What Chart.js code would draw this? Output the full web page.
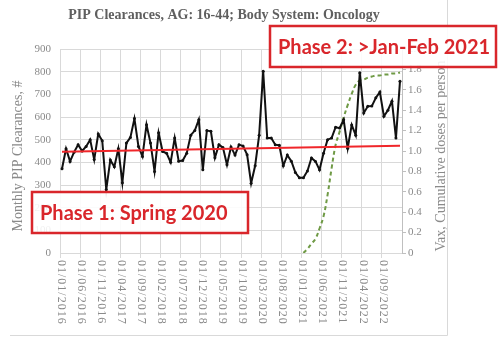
<!DOCTYPE html>
<html>
<head>
<meta charset="utf-8">
<script src="https://cdn.jsdelivr.net/npm/chart.js@4.4.1/dist/chart.umd.min.js"></script>
<style>
  body { margin: 0; background: #fff; }
  canvas { display: block; }
</style>
</head>
<body>
<canvas id="pipChart" width="499" height="339"></canvas>
<script>
const months = [
    '01/01/2016', '01/02/2016', '01/03/2016', '01/04/2016', '01/05/2016', '01/06/2016', '01/07/2016', '01/08/2016', '01/09/2016', '01/10/2016', '01/11/2016', '01/12/2016',
    '01/01/2017', '01/02/2017', '01/03/2017', '01/04/2017', '01/05/2017', '01/06/2017', '01/07/2017', '01/08/2017', '01/09/2017', '01/10/2017', '01/11/2017', '01/12/2017',
    '01/01/2018', '01/02/2018', '01/03/2018', '01/04/2018', '01/05/2018', '01/06/2018', '01/07/2018', '01/08/2018', '01/09/2018', '01/10/2018', '01/11/2018', '01/12/2018',
    '01/01/2019', '01/02/2019', '01/03/2019', '01/04/2019', '01/05/2019', '01/06/2019', '01/07/2019', '01/08/2019', '01/09/2019', '01/10/2019', '01/11/2019', '01/12/2019',
    '01/01/2020', '01/02/2020', '01/03/2020', '01/04/2020', '01/05/2020', '01/06/2020', '01/07/2020', '01/08/2020', '01/09/2020', '01/10/2020', '01/11/2020', '01/12/2020',
    '01/01/2021', '01/02/2021', '01/03/2021', '01/04/2021', '01/05/2021', '01/06/2021', '01/07/2021', '01/08/2021', '01/09/2021', '01/10/2021', '01/11/2021', '01/12/2021',
    '01/01/2022', '01/02/2022', '01/03/2022', '01/04/2022', '01/05/2022', '01/06/2022', '01/07/2022', '01/08/2022', '01/09/2022', '01/10/2022', '01/11/2022', '01/12/2022',
    '01/01/2023'
];

// monthly PIP clearances, 01/2016 .. 01/2023
const clearances = [
    372, 460, 404, 445, 478, 450, 470, 500, 412, 525,
    495, 280, 410, 380, 460, 310, 485, 510, 593, 470,
    426, 566, 485, 360, 530, 448, 440, 400, 507, 405,
    408, 440, 520, 540, 588, 367, 540, 537, 420, 478,
    465, 389, 468, 432, 478, 472, 434, 308, 385, 520,
    802, 507, 507, 478, 475, 385, 432, 405, 355, 332,
    332, 362, 419, 404, 367, 440, 500, 507, 555, 551,
    588, 462, 565, 520, 795, 618, 647, 648, 685, 710,
    603, 630, 670, 507, 758
];

// cumulative vaccine doses per person, from 01/01/2021
const vaxMonths = months.slice(60);
const vaxDoses = [
    0, 0.04, 0.09, 0.14, 0.24, 0.36, 0.57, 0.83, 1.06, 1.19,
    1.33, 1.45, 1.56, 1.65, 1.69, 1.70, 1.72, 1.73, 1.74, 1.74,
    1.75, 1.75, 1.76, 1.76, 1.77
];

// linear trend end points
const trendMonths = ['01/01/2016', '01/01/2023'];
const trendValues = [447, 473];

const leftTicks = { min: 0, max: 900, step: 100 };
const rightTicks = { min: 0, max: 2, step: 0.2 };

const titleText = 'PIP Clearances, AG: 16-44; Body System: Oncology';
const leftTitle = 'Monthly PIP Clearances, #';
const rightTitle = 'Vax, Cumulative doses per person';
const phase1 = 'Phase 1: Spring 2020';
const phase2 = 'Phase 2: >Jan-Feb 2021';

const serif = '"Liberation Serif", "DejaVu Serif", serif';
const gray = '#8a8a8a';
const red = '#d9262b';

function drawBox(ctx, x, y, w, h, text) {
    ctx.fillStyle = 'rgba(255,255,255,0.88)';
    ctx.fillRect(x, y, w, h);
    ctx.strokeStyle = red;
    ctx.lineWidth = 2.5;
    ctx.strokeRect(x, y, w, h);
    ctx.fillStyle = red;
    ctx.font = 'bold 20px Lato, "Open Sans", sans-serif';
    ctx.textAlign = 'left';
    ctx.textBaseline = 'middle';
    ctx.fillText(text, x + 8, y + h / 2 + 1);
}

const overlay = {
    id: 'overlay',
    afterDraw(chart) {
        const ctx = chart.ctx;
        const area = chart.chartArea;
        const x = chart.scales.x;
        ctx.save();

        ctx.fillStyle = '#5f5f5f';
        ctx.font = 'bold 14px ' + serif;
        ctx.textAlign = 'center';
        ctx.textBaseline = 'middle';
        ctx.fillText(titleText, 224, 15);

        // x labels, rotated to read downwards
        const half = (x.getPixelForValue(1) - x.getPixelForValue(0)) / 2;
        ctx.fillStyle = gray;
        ctx.font = '12px ' + serif;
        ctx.letterSpacing = '1px';
        months.forEach((m, i) => {
            if (i % 5) return;
            ctx.save();
            ctx.translate(x.getPixelForValue(i) - half + 1, area.bottom + 7);
            ctx.rotate(Math.PI / 2);
            ctx.textAlign = 'left';
            ctx.textBaseline = 'middle';
            ctx.fillText(m, 0, 0);
            ctx.restore();
        });
        ctx.letterSpacing = '0px';

        // axis titles
        ctx.font = '14px ' + serif;
        ctx.textAlign = 'center';
        ctx.textBaseline = 'middle';
        ctx.save();
        ctx.translate(18, 156);
        ctx.rotate(-Math.PI / 2);
        ctx.fillText(leftTitle, 0, 0);
        ctx.restore();
        ctx.save();
        ctx.translate(441, 156);
        ctx.rotate(-Math.PI / 2);
        ctx.fillText(rightTitle, 0, 0);
        ctx.restore();

        // chart frame
        ctx.strokeStyle = '#d9d9d9';
        ctx.lineWidth = 1;
        ctx.beginPath();
        ctx.moveTo(447.5, 0);
        ctx.lineTo(447.5, 335.5);
        ctx.lineTo(10, 335.5);
        ctx.stroke();

        drawBox(ctx, 32, 192, 216, 41, phase1);
        drawBox(ctx, 270, 26, 226, 41, phase2);
        ctx.restore();
    }
};

new Chart(document.getElementById('pipChart'), {
    type: 'line',
    data: {
        labels: months,
        datasets: [
            {
                data: trendMonths.map((m, i) => ({ x: m, y: trendValues[i] })),
                borderColor: '#f0262a',
                borderWidth: 2,
                pointRadius: 0,
                order: 0
            },
            {
                data: clearances,
                borderColor: '#111',
                borderWidth: 2,
                pointRadius: 1.5,
                pointBackgroundColor: '#111',
                pointBorderWidth: 0,
                order: 1
            },
            {
                data: vaxMonths.map((m, i) => ({ x: m, y: vaxDoses[i] })),
                yAxisID: 'y1',
                borderColor: '#6f9a45',
                borderWidth: 2,
                borderDash: [4, 3],
                pointRadius: 0,
                tension: 0.4,
                order: 2
            }
        ]
    },
    options: {
        responsive: false,
        animation: false,
        devicePixelRatio: 1,
        layout: { padding: { top: 49, left: 0, right: 0, bottom: 0 } },
        plugins: {
            legend: { display: false },
            tooltip: { enabled: false }
        },
        scales: {
            x: {
                offset: true,
                grid: {
                    offset: true,
                    color: ctx => ctx.index % 5 === 0 ? '#d9d9d9' : 'rgba(0,0,0,0)',
                    tickLength: 5
                },
                border: { color: '#d9d9d9' },
                ticks: { display: false, autoSkip: false },
                afterFit: scale => { scale.height = 86; }
            },
            y: {
                position: 'left',
                min: leftTicks.min,
                max: leftTicks.max,
                ticks: {
                    stepSize: leftTicks.step,
                    color: gray,
                    font: { family: serif, size: 11 },
                    padding: 9
                },
                grid: { color: '#d9d9d9', drawTicks: false },
                border: { color: '#d9d9d9' },
                afterFit: scale => { scale.width = 60; }
            },
            y1: {
                position: 'right',
                min: rightTicks.min,
                max: rightTicks.max,
                ticks: {
                    stepSize: rightTicks.step,
                    color: gray,
                    font: { family: serif, size: 11 },
                    padding: 2
                },
                grid: { drawOnChartArea: false, tickLength: 4, color: '#bfbfbf' },
                border: { color: '#bfbfbf' },
                afterFit: scale => { scale.width = 97; }
            }
        }
    },
    plugins: [overlay]
});
</script>
</body>
</html>
